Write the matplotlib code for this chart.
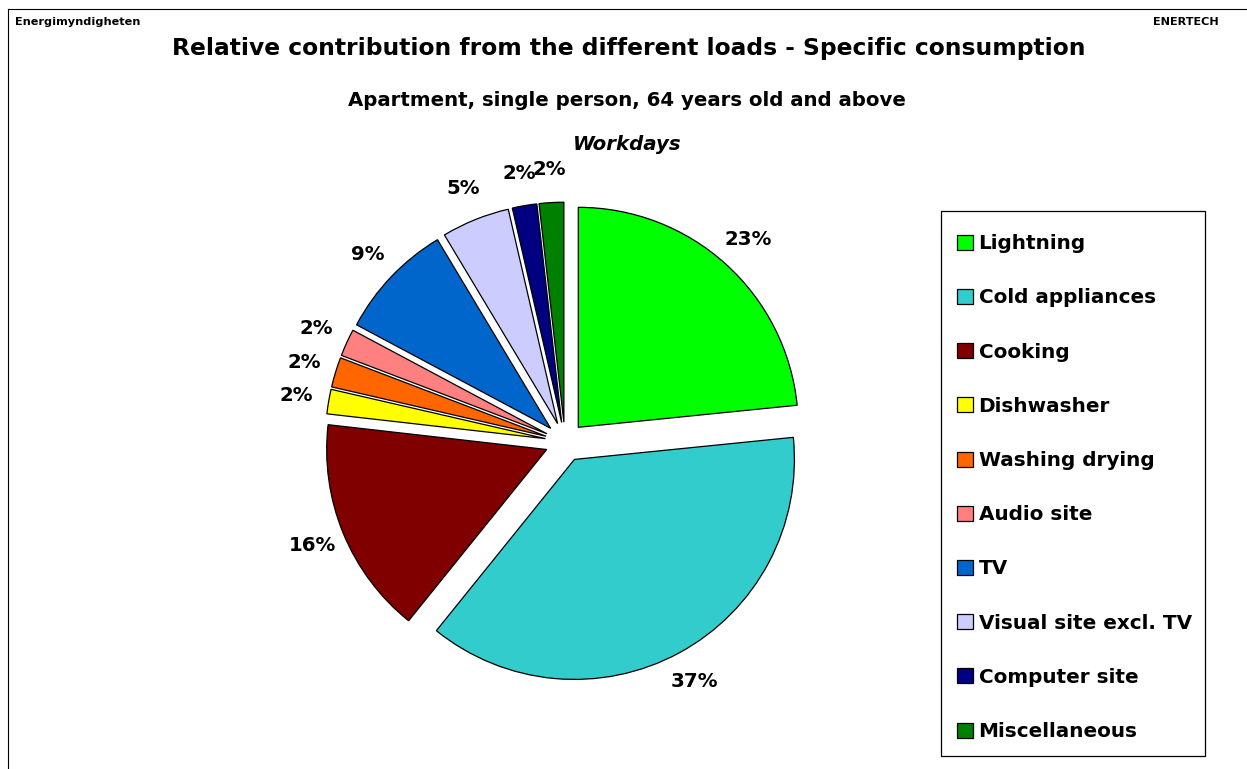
import matplotlib
matplotlib.use("Agg")
import matplotlib.pyplot as plt
from matplotlib.lines import Line2D
from matplotlib.patches import Rectangle

plt.rcParams['font.family'] = ['DejaVu Sans']

categories = ["Lightning", "Cold appliances", "Cooking", "Dishwasher", "Washing drying",
              "Audio site", "TV", "Visual site excl. TV", "Computer site", "Miscellaneous"]
shares = [23.4, 37.4, 16.0, 1.8, 2.2, 2.0, 8.6, 5.0, 1.8, 1.8]
colors = ["#00FF00", "#33CCCC", "#800000", "#FFFF00", "#FF6600",
          "#FF8080", "#0066CC", "#CCCCFF", "#000080", "#008000"]

title = "Relative contribution from the different loads - Specific consumption"
subtitle = "Apartment, single person, 64 years old and above"
daytype = "Workdays"
left_header = "Energimyndigheten"
right_header = "ENERTECH"

W, H = 1247, 769
fig = plt.figure(figsize=(W / 100, H / 100), dpi=100)

# pie axes: center (565,442) px, radius 220 px
R_px = 220
L = 1.5
cx, cy = 565, 442
ax = fig.add_axes([(cx - L * R_px) / W, (H - cy - L * R_px) / H,
                   2 * L * R_px / W, 2 * L * R_px / H])
wedges, texts, autotexts = ax.pie(
    shares, colors=colors, startangle=90, counterclock=False,
    explode=[0.09] * len(shares), autopct='%.0f%%', pctdistance=1.15,
    wedgeprops=dict(edgecolor='black', linewidth=0.9),
    textprops=dict(fontsize=14.2, fontweight='bold', color='black'))
ax.set_xlim(-L, L)
ax.set_ylim(-L, L)
ax.set_aspect('equal')
ax.axis('off')

# titles
fig.text(629 / W, 1 - 49 / H, title, ha='center', va='center', fontsize=16.8, fontweight='bold')
fig.text(627 / W, 1 - 101 / H, subtitle, ha='center', va='center', fontsize=14.2, fontweight='bold')
fig.text(627 / W, 1 - 144 / H, daytype, ha='center', va='center', fontsize=14.2,
         fontweight='bold', style='italic')
fig.text(15 / W, 1 - 22 / H, left_header, ha='left', va='center', fontsize=8.1, fontweight='bold')
fig.text(1219 / W, 1 - 22 / H, right_header, ha='right', va='center', fontsize=8.1, fontweight='bold')

# outer frame (top and left edges visible)
fig.add_artist(Line2D([8 / W, 1.01], [1 - 9 / H, 1 - 9 / H], color='black', lw=0.8,
                      transform=fig.transFigure))
fig.add_artist(Line2D([8 / W, 8 / W], [1 - 9 / H, -0.01], color='black', lw=0.8,
                      transform=fig.transFigure))

# legend box
fig.add_artist(Rectangle((941 / W, 1 - 756 / H), (1205 - 941) / W, (756 - 211) / H,
                         transform=fig.transFigure, facecolor='white', edgecolor='black',
                         linewidth=0.9, zorder=1))
leg = fig.legend(wedges, categories, loc='upper left',
                 bbox_to_anchor=(957 / W, 1 - 234.3 / H),
                 prop=dict(size=14.4, weight='bold'),
                 frameon=False,
                 handlelength=0.78, handleheight=0.78, handletextpad=0.3,
                 labelspacing=1.76, borderpad=0, borderaxespad=0)
leg.set_zorder(2)

fig.savefig("out.png", dpi=100)
